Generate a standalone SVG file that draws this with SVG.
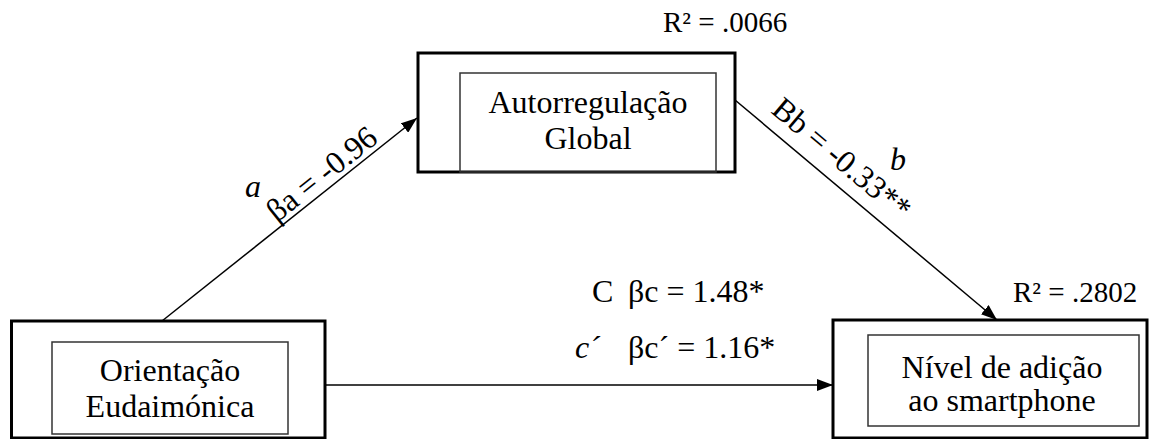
<svg xmlns="http://www.w3.org/2000/svg" width="1150" height="439" viewBox="0 0 1150 439">
<defs>
<marker id="arr" viewBox="0 0 16 12" refX="16" refY="6" markerWidth="16" markerHeight="12" markerUnits="userSpaceOnUse" orient="auto">
<path d="M0,0 L16,6 L0,12 Z" fill="#000"/>
</marker>
<style>
.outer{fill:none;stroke:#000;stroke-width:3}
.inner{fill:none;stroke:#333;stroke-width:1.5}
.conn{stroke:#000;stroke-width:1.5;fill:none}
text{font-family:"Liberation Serif","Times New Roman",serif;fill:#000}
.node{font-size:32px;text-anchor:middle}
.lbl{font-size:32px}
.r2{font-size:29px}
.it{font-style:italic}
</style>
</defs>
<rect width="1150" height="439" fill="#fff"/>
<g id="connectors">
<line class="conn" x1="162" y1="321" x2="417" y2="118" marker-end="url(#arr)"/>
<line class="conn" x1="735" y1="100" x2="997" y2="320" marker-end="url(#arr)"/>
<line class="conn" x1="325" y1="385" x2="833" y2="385" marker-end="url(#arr)"/>
</g>
<g id="node-autorregulacao">
<rect class="outer" x="418" y="53" width="317" height="119"/>
<rect class="inner" x="460" y="73" width="256" height="99"/>
<text class="node" x="588" y="113">Autorregulação</text>
<text class="node" x="588" y="149">Global</text>
</g>
<g id="node-orientacao">
<rect class="outer" x="11.5" y="321" width="313.5" height="117"/>
<rect class="inner" x="52" y="342" width="236" height="92"/>
<text class="node" x="170" y="381">Orientação</text>
<text class="node" x="170" y="417">Eudaimónica</text>
</g>
<g id="node-nivel">
<rect class="outer" x="833" y="320" width="314" height="118"/>
<rect class="inner" x="868" y="335" width="271" height="91"/>
<text class="node" x="1002" y="378">Nível de adição</text>
<text class="node" x="1002" y="411">ao smartphone</text>
</g>
<g id="labels">
<text class="r2" x="663" y="32">R² = .0066</text>
<text class="r2" x="1013" y="302">R² = .2802</text>
<text class="lbl it" x="245" y="197">a</text>
<text class="lbl" x="277" y="223" transform="rotate(-38.6 277 223)">βa = -0.96</text>
<text class="lbl" x="770" y="112" transform="rotate(40 770 112)">Bb = -0.33**</text>
<text class="lbl it" x="890" y="170">b</text>
<text class="lbl" x="592" y="302">C</text>
<text class="lbl" x="628" y="302">βc = 1.48*</text>
<text class="lbl it" x="575" y="358">c´</text>
<text class="lbl" x="628" y="358">βc´ = 1.16*</text>
</g>
</svg>
